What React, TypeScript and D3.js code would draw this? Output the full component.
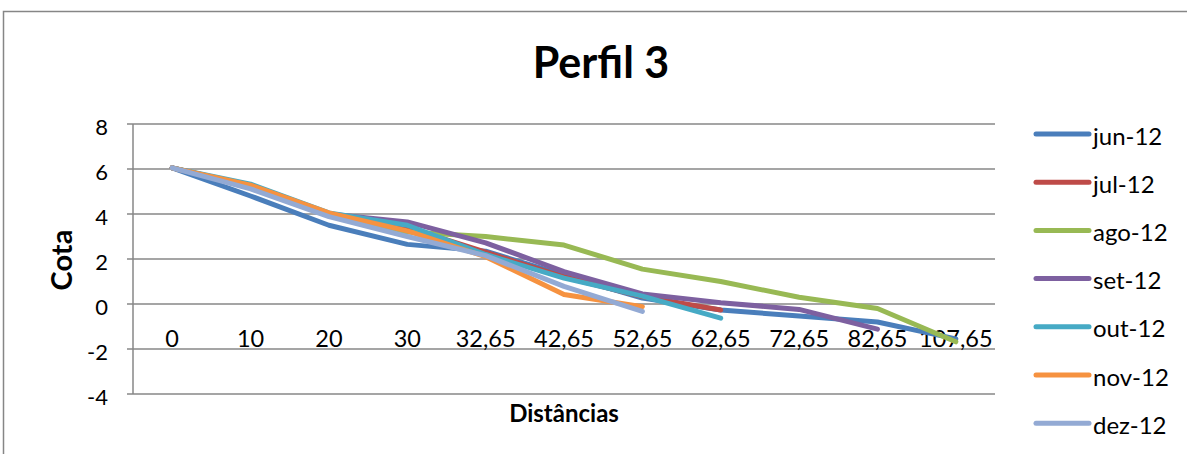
import React, { useEffect, useRef } from "react";
import * as d3 from "d3";

const categories = ["0", "10", "20", "30", "32,65", "42,65", "52,65", "62,65", "72,65", "82,65", "107,65"];
const yTicks = [-4, -2, 0, 2, 4, 6, 8];

const jun12 = [6.05, 4.8, 3.5, 2.65, 2.35, 1.28, 0.26, -0.27, -0.53, -0.8, -1.55];
const jul12 = [6.05, 5.25, 4.0, 3.4, 2.3, 1.2, 0.33, -0.27];
const ago12 = [6.05, 5.25, 4.0, 3.2, 3.0, 2.62, 1.55, 1.0, 0.3, -0.2, -1.68];
const set12 = [6.05, 5.25, 4.0, 3.65, 2.72, 1.44, 0.45, 0.06, -0.24, -1.12];
const out12 = [6.05, 5.33, 4.05, 3.5, 2.2, 1.15, 0.35, -0.63];
const nov12 = [6.05, 5.28, 4.05, 3.25, 2.1, 0.42, -0.12];
const dez12 = [6.05, 5.12, 3.88, 3.0, 2.15, 0.78, -0.33];

const seriesNames = ["jun-12", "jul-12", "ago-12", "set-12", "out-12", "nov-12", "dez-12"];
const seriesValues = [jun12, jul12, ago12, set12, out12, nov12, dez12];
const seriesColors = ["#4A7EBB", "#BE4B48", "#98B954", "#7D60A0", "#46AAC5", "#F69240", "#93AAD4"];

const W = 1187;
const H = 454;
const FONT = "Lato, 'Open Sans', sans-serif";

export default function App() {
  const ref = useRef<SVGSVGElement>(null);

  useEffect(() => {
    const svg = d3.select(ref.current);
    svg.selectAll("*").remove();

    const left = 133, right = 995, top = 124, bottom = 394;
    const x = d3.scaleBand<string>().domain(categories).range([left, right]);
    const cx = (c: string) => (x(c) as number) + x.bandwidth() / 2;
    const y = d3.scaleLinear().domain([-4, 8]).range([bottom, top]);

    svg.append("rect").attr("width", W).attr("height", H).attr("fill", "#fff");
    // outer frame
    svg.append("rect")
      .attr("x", 3.5).attr("y", 11.5)
      .attr("width", W + 10).attr("height", H + 10)
      .attr("fill", "none").attr("stroke", "#868686").attr("stroke-width", 1.5);

    // gridlines
    svg.append("g").selectAll("line").data(yTicks).join("line")
      .attr("x1", left).attr("x2", right)
      .attr("y1", (d) => y(d)).attr("y2", (d) => y(d))
      .attr("stroke", "#878787").attr("stroke-width", 1.5);

    // y axis line + ticks
    svg.append("line").attr("x1", left).attr("x2", left).attr("y1", top).attr("y2", bottom)
      .attr("stroke", "#878787").attr("stroke-width", 1.5);
    svg.append("g").selectAll("line").data(yTicks).join("line")
      .attr("x1", left - 6).attr("x2", left)
      .attr("y1", (d) => y(d)).attr("y2", (d) => y(d))
      .attr("stroke", "#878787").attr("stroke-width", 1.5);

    // y labels
    svg.append("g").selectAll("text").data(yTicks).join("text")
      .attr("x", 108).attr("y", (d) => y(d) + 2)
      .attr("text-anchor", "end").attr("dominant-baseline", "central")
      .attr("font-family", FONT).attr("font-size", 22).attr("fill", "#000")
      .text((d) => String(d));

    // x labels
    svg.append("g").selectAll("text").data(categories).join("text")
      .attr("x", (d) => cx(d)).attr("y", 347)
      .attr("text-anchor", "middle")
      .attr("font-family", FONT).attr("font-size", 23.5).attr("fill", "#000")
      .text((d) => d);

    // lines
    const line = d3.line<number>()
      .x((_, i) => cx(categories[i]))
      .y((d) => y(d));
    seriesValues.forEach((vals, si) => {
      svg.append("path")
        .attr("d", line(vals) as string)
        .attr("fill", "none")
        .attr("stroke", seriesColors[si])
        .attr("stroke-width", 5)
        .attr("stroke-linejoin", "round")
        .attr("stroke-linecap", "round");
    });

    // title
    svg.append("text").attr("x", 601).attr("y", 78).attr("text-anchor", "middle")
      .attr("font-family", FONT).attr("font-weight", "bold").attr("font-size", 43)
      .text("Perfil 3");

    // axis titles
    svg.append("text").attr("x", 564).attr("y", 422).attr("text-anchor", "middle")
      .attr("font-family", FONT).attr("font-weight", "bold").attr("font-size", 24)
      .text("Distâncias");
    svg.append("text")
      .attr("transform", "translate(72,260) rotate(-90)")
      .attr("text-anchor", "middle")
      .attr("font-family", FONT).attr("font-weight", "bold").attr("font-size", 29)
      .text("Cota");

    // legend
    const lg = svg.append("g");
    seriesNames.forEach((name, i) => {
      const ly = 134 + i * 48.2;
      lg.append("line").attr("x1", 1036).attr("x2", 1089).attr("y1", ly).attr("y2", ly)
        .attr("stroke", seriesColors[i]).attr("stroke-width", 5).attr("stroke-linecap", "round");
      lg.append("text").attr("x", 1093).attr("y", ly + 1).attr("dominant-baseline", "central")
        .attr("font-family", FONT).attr("font-size", 24).attr("fill", "#000")
        .text(name);
    });
  }, []);

  return (
    <svg ref={ref} width={W} height={H} style={{ position: "absolute", left: 0, top: 0, display: "block" }} />
  );
}
